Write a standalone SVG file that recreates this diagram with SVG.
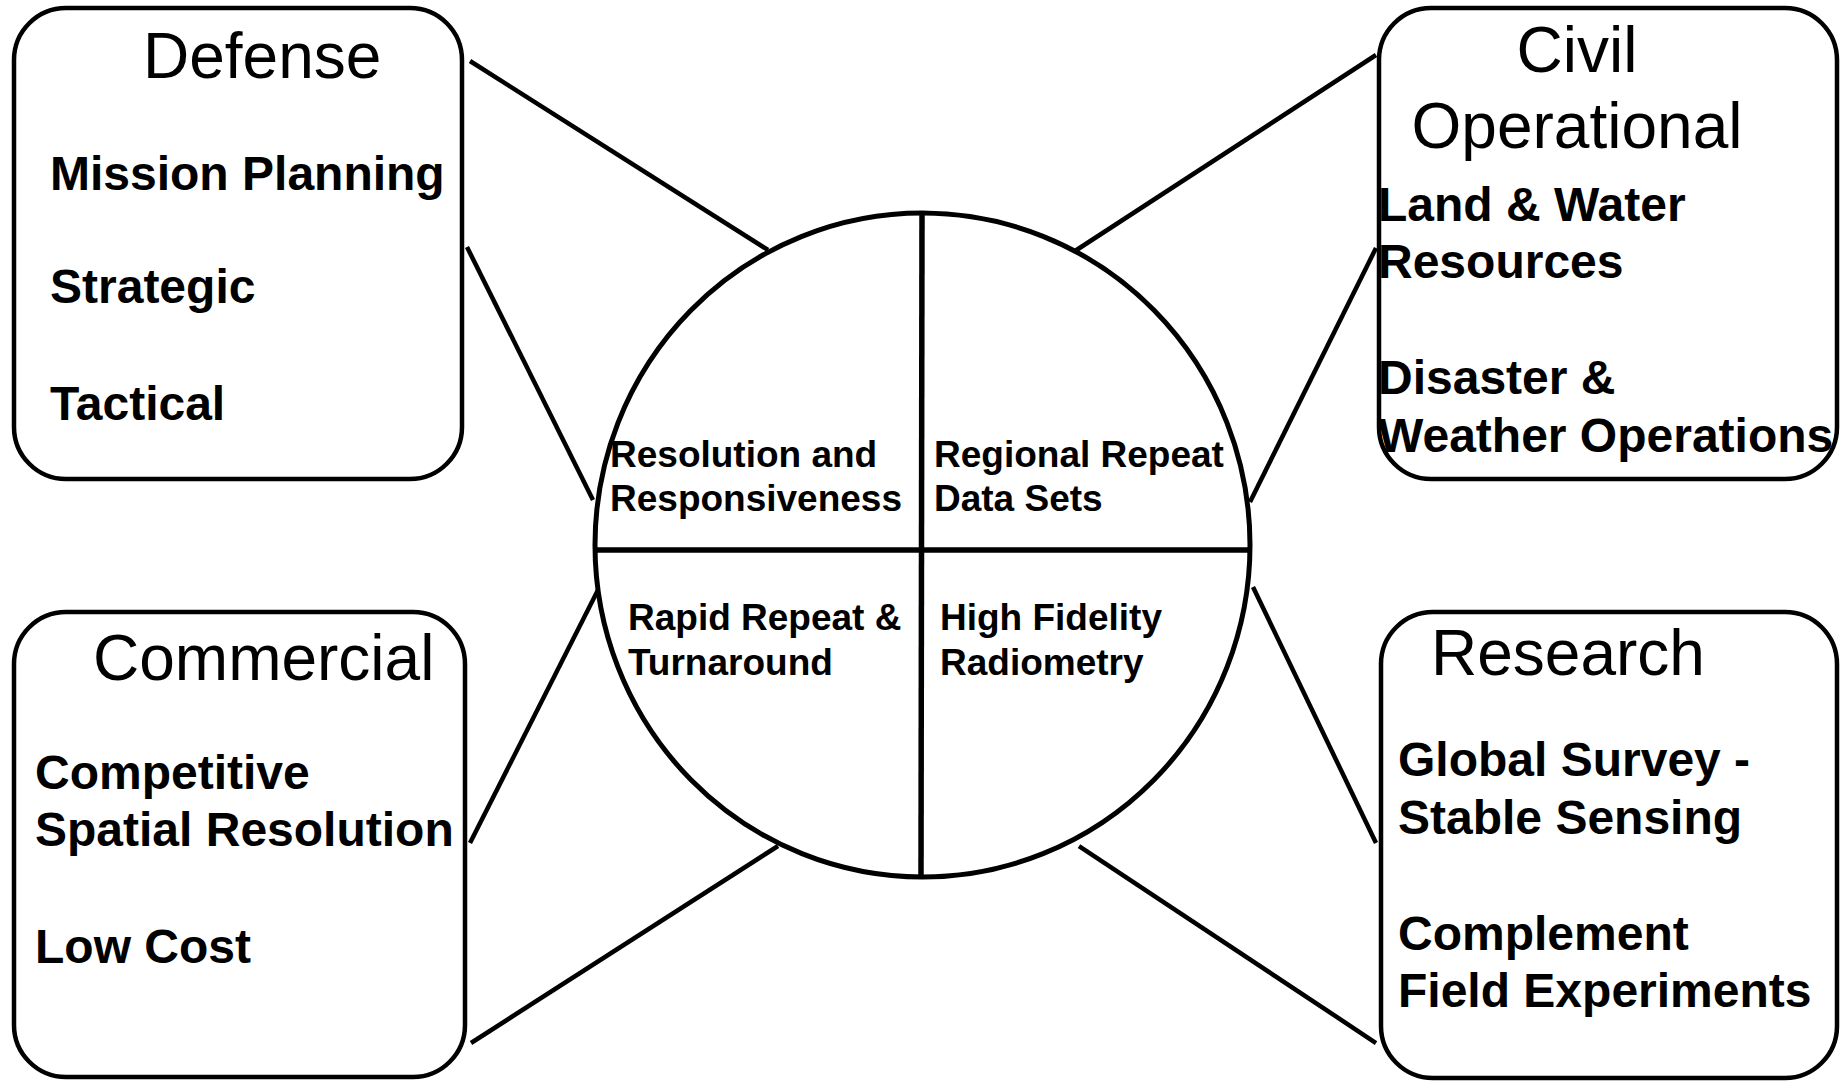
<svg xmlns="http://www.w3.org/2000/svg" width="1843" height="1081" viewBox="0 0 1843 1081">
  <style>
    .box { fill: #ffffff; stroke: #000000; stroke-width: 4.5; }
    .link { stroke: #000000; stroke-width: 4.5; fill: none; }
    .hub { fill: #ffffff; stroke: #000000; stroke-width: 5; }
    .divider { stroke: #000000; stroke-width: 5.5; }
    .title { font-family: "Liberation Sans", Arial, sans-serif; font-size: 64px; fill: #000000; }
    .item { font-family: "Liberation Sans", Arial, sans-serif; font-size: 48px; font-weight: bold; fill: #000000; }
    .quad { font-family: "Liberation Sans", Arial, sans-serif; font-size: 37px; font-weight: bold; fill: #000000; }
  </style>
  <rect width="1843" height="1081" fill="#ffffff"/>

  <!-- spokes from the hub to each user community -->
  <g id="connectors">
    <line class="link" x1="470" y1="61" x2="768" y2="250"/>
    <line class="link" x1="467" y1="247" x2="593" y2="500"/>
    <line class="link" x1="600" y1="586" x2="470" y2="843"/>
    <line class="link" x1="778" y1="846" x2="471" y2="1043"/>
    <line class="link" x1="1075" y1="251" x2="1376" y2="55"/>
    <line class="link" x1="1250" y1="502" x2="1376" y2="248"/>
    <line class="link" x1="1253" y1="587" x2="1376" y2="843"/>
    <line class="link" x1="1079" y1="846" x2="1376" y2="1043"/>
  </g>

  <g id="defense">
    <rect class="box" x="14" y="8" width="448" height="471" rx="52" ry="52"/>
    <text class="title" x="143" y="78">Defense</text>
    <text class="item" x="50" y="190">Mission Planning</text>
    <text class="item" x="50" y="303">Strategic</text>
    <text class="item" x="50" y="420">Tactical</text>
  </g>

  <g id="civil-operational">
    <rect class="box" x="1379" y="8" width="458" height="471" rx="52" ry="52"/>
    <text class="title" x="1577" y="72" text-anchor="middle">Civil</text>
    <text class="title" x="1577" y="148" text-anchor="middle">Operational</text>
    <text class="item" x="1378" y="221">Land &amp; Water</text>
    <text class="item" x="1378" y="278">Resources</text>
    <text class="item" x="1378" y="394">Disaster &amp;</text>
    <text class="item" x="1378" y="452">Weather Operations</text>
  </g>

  <g id="commercial">
    <rect class="box" x="14" y="612" width="451" height="465" rx="52" ry="52"/>
    <text class="title" x="93" y="680">Commercial</text>
    <text class="item" x="35" y="789">Competitive</text>
    <text class="item" x="35" y="846">Spatial Resolution</text>
    <text class="item" x="35" y="963">Low Cost</text>
  </g>

  <g id="research">
    <rect class="box" x="1381" y="612" width="456" height="466" rx="52" ry="52"/>
    <text class="title" x="1431" y="675">Research</text>
    <text class="item" x="1398" y="776">Global Survey -</text>
    <text class="item" x="1398" y="834">Stable Sensing</text>
    <text class="item" x="1398" y="950">Complement</text>
    <text class="item" x="1398" y="1007">Field Experiments</text>
  </g>

  <g id="hub">
    <ellipse class="hub" cx="922.5" cy="545" rx="327.5" ry="332"/>
    <line class="divider" x1="922" y1="213" x2="921" y2="877"/>
    <line class="divider" x1="595" y1="550" x2="1250" y2="550"/>
    <text class="quad" x="610" y="467">Resolution and</text>
    <text class="quad" x="610" y="511">Responsiveness</text>
    <text class="quad" x="934" y="467">Regional Repeat</text>
    <text class="quad" x="934" y="511">Data Sets</text>
    <text class="quad" x="628" y="630">Rapid Repeat &amp;</text>
    <text class="quad" x="628" y="675">Turnaround</text>
    <text class="quad" x="940" y="630">High Fidelity</text>
    <text class="quad" x="940" y="675">Radiometry</text>
  </g>
</svg>
